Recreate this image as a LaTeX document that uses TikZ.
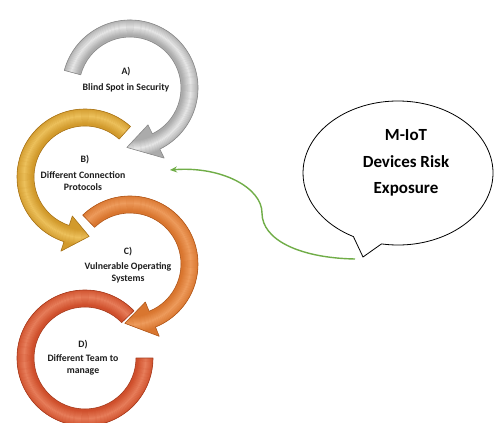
\documentclass[tikz,border=0pt]{standalone}
\usepackage{fontspec}
\setmainfont{Carlito}
\usetikzlibrary{arrows.meta}

\definecolor{grayBase}{HTML}{ABABAB}
\definecolor{grayHl}{HTML}{F7F7F7}
\definecolor{grayEdge}{HTML}{8A8A8A}
\definecolor{goldBase}{HTML}{D29A2C}
\definecolor{goldHl}{HTML}{F4CC6A}
\definecolor{goldEdge}{HTML}{A8741A}
\definecolor{orgBase}{HTML}{D9762F}
\definecolor{orgHl}{HTML}{F4A66A}
\definecolor{orgEdge}{HTML}{B0581C}
\definecolor{redBase}{HTML}{CF4F2C}
\definecolor{redHl}{HTML}{EE8C68}
\definecolor{redEdge}{HTML}{A63C1E}
\definecolor{linkGreen}{HTML}{70AD47}
\definecolor{labelInk}{HTML}{1E1E1E}

\tikzset{
  steplabel/.style={font=\fontsize{9.8}{11.5}\selectfont\bfseries, text=labelInk, align=center, inner sep=0pt},
  bubbletext/.style={font=\fontsize{17}{26.5}\selectfont\bfseries, text=black, align=center, inner sep=0pt},
  greenlink/.style={draw=linkGreen, line width=1.4pt, -{Stealth[length=7pt,width=6pt]}},
  bubbleline/.style={draw=black, line width=0.8pt, line join=miter}
}

% Bevelled ring segment with an arrowhead at its end.
% #1 centre, #2 start angle, #3 head base angle, #4 tip angle,
% #5 base colour, #6 highlight colour, #7 edge colour
\newcommand\arrowring[7]{%
  \begin{scope}[shift={#1}]
    \begin{scope}
      \clip (#2:68) arc[start angle=#2, end angle=#3, radius=68]
        -- (#3:78) -- (#4:59.5) -- (#3:41) -- (#3:51)
        arc[start angle=#3, end angle=#2, radius=51] -- cycle;
      \fill[#5] (0,0) circle[radius=82];
      \foreach \r in {52,...,70} {
        \pgfmathtruncatemacro\h{max(0,78*(1-abs(\r-61)/8))}
        \draw[line width=1.2pt, #6!\h!#5] (0,0) circle[radius=\r];
      }
    \end{scope}
    \draw[#7, line width=0.6pt, line join=round]
      (#2:68) arc[start angle=#2, end angle=#3, radius=68]
      -- (#3:78) -- (#4:59.5) -- (#3:41) -- (#3:51)
      arc[start angle=#3, end angle=#2, radius=51] -- cycle;
  \end{scope}}

% Bevelled ring segment with flat ends.
\newcommand\plainring[6]{%
  \begin{scope}[shift={#1}]
    \begin{scope}
      \clip (#2:68) arc[start angle=#2, end angle=#3, radius=68]
        -- (#3:51) arc[start angle=#3, end angle=#2, radius=51] -- cycle;
      \fill[#4] (0,0) circle[radius=82];
      \foreach \r in {52,...,70} {
        \pgfmathtruncatemacro\h{max(0,78*(1-abs(\r-61)/8))}
        \draw[line width=1.2pt, #5!\h!#4] (0,0) circle[radius=\r];
      }
    \end{scope}
    \draw[#6, line width=0.6pt, line join=round]
      (#2:68) arc[start angle=#2, end angle=#3, radius=68]
      -- (#3:51) arc[start angle=#3, end angle=#2, radius=51] -- cycle;
  \end{scope}}

\begin{document}
\begin{tikzpicture}[x=1pt, y=1pt]
  \useasboundingbox (0,-423) rectangle (496,0);
  \fill[white] (0,-423) rectangle (496,0);

  % ring centres
  \coordinate (cA) at (130,-88);
  \coordinate (cB) at (85,-177);
  \coordinate (cC) at (130,-264);
  \coordinate (cD) at (85,-358);

  % the four rings
  \plainring{(cD)}{44}{360}{redBase}{redHl}{redEdge}
  \arrowring{(cC)}{134}{-68}{-95}{orgBase}{orgHl}{orgEdge}
  \arrowring{(cB)}{48}{252}{274}{goldBase}{goldHl}{goldEdge}
  \arrowring{(cA)}{165}{-64}{-93}{grayBase}{grayHl}{grayEdge}

  % step labels
  \node[steplabel] (labA) at (126,-72) {A)};
  \node[steplabel] (txtA) at (126,-88) {Blind Spot in Security};
  \node[steplabel] (labB) at (85,-160) {B)};
  \node[steplabel] (txtB) at (83,-181) {Different Connection\\Protocols};
  \node[steplabel] (labC) at (128,-252) {C)};
  \node[steplabel] (txtC) at (128,-273) {Vulnerable Operating\\Systems};
  \node[steplabel] (labD) at (83,-345) {D)};
  \node[steplabel] (txtD) at (83,-365) {Different Team to\\manage};

  % speech bubble
  \coordinate (bubc) at (398,-173);
  \coordinate (tailtip) at (363,-257);
  \draw[bubbleline] ([shift={(bubc)}]260:95 and 72)
    arc[start angle=260, end angle=602, x radius=95, y radius=72]
    -- (tailtip) -- cycle;
  \node[bubbletext] (bubtext) at (406,-163) {M-IoT\\Devices Risk\\Exposure};

  % green link from the bubble towards ring B
  \coordinate (gstart) at (355,-259);
  \coordinate (gmid) at (262,-213);
  \coordinate (gend) at (170,-170);
  \draw[greenlink] (gstart) .. controls (300,-258) and (262,-240) .. (gmid)
    .. controls (262,-188) and (222,-166) .. (gend);
\end{tikzpicture}
\end{document}
